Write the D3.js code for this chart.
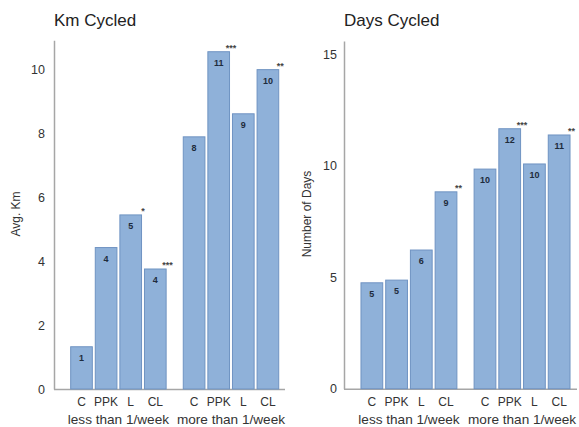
<!DOCTYPE html>
<html>
<head>
<meta charset="utf-8">
<script src="https://cdn.jsdelivr.net/npm/d3@7"></script>
<style>
  html, body { margin: 0; padding: 0; background: #fff; }
  svg { display: block; font-family: "Liberation Sans", Arial, Helvetica, sans-serif; }
</style>
</head>
<body>
<svg id="chart" width="579" height="427"></svg>
<script>
// ---- data ----
const groups = ["less than 1/week", "more than 1/week"];
const categories = ["C", "PPK", "L", "CL"];

const kmValues = [
  [1.32, 4.42, 5.44, 3.75],
  [7.88, 10.54, 8.6, 9.98]
];
const kmLabels = [
  ["1", "4", "5", "4"],
  ["8", "11", "9", "10"]
];
const kmStars = [
  ["", "", "*", "***"],
  ["", "***", "", "**"]
];
const kmTicks = [0, 2, 4, 6, 8, 10];

const dayValues = [
  [4.75, 4.87, 6.22, 8.83],
  [9.85, 11.66, 10.08, 11.38]
];
const dayLabels = [
  ["5", "5", "6", "9"],
  ["10", "12", "10", "11"]
];
const dayStars = [
  ["", "", "", "**"],
  ["", "***", "", "**"]
];
const dayTicks = [0, 5, 10, 15];

const svg = d3.select("#chart");

function panel(cfg) {
  const g = svg.append("g");
  const y = d3.scaleLinear().domain([0, cfg.yMax]).range([cfg.y0, cfg.yTop]);
  const xg = d3.scaleBand().domain(groups).range(cfg.xRange).paddingInner(0.126).paddingOuter(0);
  const xc = d3.scaleBand().domain(categories).range([0, xg.bandwidth()]).paddingInner(0.12).paddingOuter(0.06);

  // title
  g.append("text").attr("x", cfg.axisX).attr("y", 26)
    .attr("font-size", 17).attr("fill", "#222").text(cfg.title);

  // y axis
  const yAxis = d3.axisLeft(y).tickValues(cfg.ticks).tickSize(0).tickPadding(cfg.tickPad).tickFormat(d3.format("d"));
  const ya = g.append("g").attr("transform", `translate(${cfg.axisX},0)`).call(yAxis);
  ya.select(".domain").attr("stroke", "#a6a6a6").attr("stroke-width", 1.5);
  ya.selectAll("text").attr("font-size", 12.5).attr("fill", "#333")
    .attr("font-family", "'Liberation Sans', Arial, sans-serif");

  // x axis line
  g.append("line").attr("x1", cfg.axisX).attr("x2", cfg.xAxisEnd)
    .attr("y1", cfg.y0 + 0.5).attr("y2", cfg.y0 + 0.5)
    .attr("stroke", "#a6a6a6").attr("stroke-width", 1.5);

  // y label
  g.append("text")
    .attr("transform", `translate(${cfg.yLabelX},${214}) rotate(-90)`)
    .attr("text-anchor", "middle").attr("font-size", 12).attr("fill", "#333")
    .text(cfg.yLabel);

  groups.forEach((grp, gi) => {
    const gx = xg(grp);
    categories.forEach((cat, ci) => {
      const v = cfg.values[gi][ci];
      const bx = gx + xc(cat);
      const bw = xc.bandwidth();
      g.append("rect")
        .attr("x", bx).attr("y", y(v))
        .attr("width", bw).attr("height", y(0) - y(v))
        .attr("fill", "#8fb1d9").attr("stroke", "#6f93c2").attr("stroke-width", 1);
      g.append("text")
        .attr("x", bx + bw / 2).attr("y", y(v) + 14)
        .attr("text-anchor", "middle").attr("font-size", 9).attr("font-weight", "bold")
        .attr("fill", "#1e2b3c").text(cfg.labels[gi][ci]);
      if (cfg.stars[gi][ci]) {
        g.append("text")
          .attr("x", bx + bw + 1.5).attr("y", y(v) - 1)
          .attr("text-anchor", "middle").attr("font-size", 9).attr("font-weight", "bold")
          .attr("fill", "#444").text(cfg.stars[gi][ci]);
      }
      g.append("text")
        .attr("x", bx + bw / 2).attr("y", 406)
        .attr("text-anchor", "middle").attr("font-size", 12).attr("fill", "#333")
        .text(cat);
    });
    g.append("text")
      .attr("x", gx + xg.bandwidth() / 2).attr("y", 423.5)
      .attr("text-anchor", "middle").attr("font-size", 13.6).attr("fill", "#333")
      .text(grp);
  });
}

panel({
  title: "Km Cycled", yLabel: "Avg. Km",
  values: kmValues, labels: kmLabels, stars: kmStars, ticks: kmTicks,
  yMax: 10.9, y0: 389, yTop: 40.2,
  axisX: 54, xAxisEnd: 285, xRange: [69.2, 280.2],
  tickPad: 9, yLabelX: 20
});

panel({
  title: "Days Cycled", yLabel: "Number of Days",
  values: dayValues, labels: dayLabels, stars: dayStars, ticks: dayTicks,
  yMax: 15.6, y0: 388.7, yTop: 40.9,
  axisX: 344, xAxisEnd: 577, xRange: [359.5, 571.5],
  tickPad: 7, yLabelX: 311
});
</script>
</body>
</html>
